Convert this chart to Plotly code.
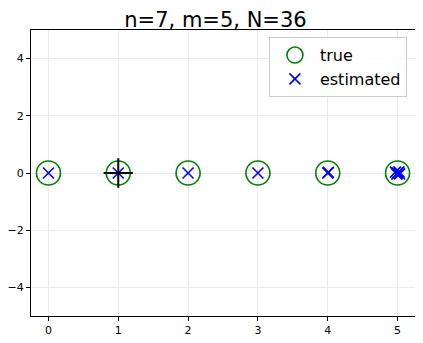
import plotly.graph_objects as go

true_x = [0, 1, 2, 3, 4, 5]
true_y = [0, 0, 0, 0, 0, 0]

est_x = [0, 1, 2, 3, 4, 4.01, 4.97, 5.0, 5.03, 4.99, 5.02]
est_y = [0, 0, 0, 0, 0, 0.02, 0.03, 0, -0.03, -0.04, 0.04]

anchor_x = [1]
anchor_y = [0]

fig = go.Figure()

fig.add_trace(go.Scatter(
    x=true_x, y=true_y, mode='markers', name='true',
    marker=dict(symbol='circle-open', size=24, color='green', line=dict(width=1.6, color='green')),
))

fig.add_trace(go.Scatter(
    x=est_x, y=est_y, mode='markers', name='estimated',
    marker=dict(symbol='x-thin-open', size=11, color='blue', line=dict(width=1.6, color='blue')),
))

fig.add_trace(go.Scatter(
    x=anchor_x, y=anchor_y, mode='markers', showlegend=False,
    marker=dict(symbol='cross-thin-open', size=21, color='black', line=dict(width=2, color='black')),
))

axis_style = dict(
    showgrid=True, gridcolor='#ebebeb', gridwidth=1,
    showline=True, linecolor='black', linewidth=1, mirror=True,
    ticks='outside', ticklen=4, tickcolor='black', automargin=False,
    zeroline=False, tickfont=dict(size=11, color='black'),
)

fig.update_xaxes(range=[-0.25, 5.25], tickvals=[0, 1, 2, 3, 4, 5], **axis_style)
fig.update_yaxes(range=[-5, 5], tickvals=[-4, -2, 0, 2, 4], **axis_style)

# the page body has an 8px margin, so the figure is shifted by 8px
fig.update_layout(
    width=415, height=335,
    margin=dict(l=23, r=8, t=22, b=27),
    plot_bgcolor='white', paper_bgcolor='white',
    font=dict(family='DejaVu Sans', color='black'),
    title=dict(text='n=7, m=5, N=36', x=0.5, xanchor='center', y=0.965, yanchor='middle',
               font=dict(size=21)),
    legend=dict(x=0.979, y=0.975, xanchor='right', yanchor='top',
                bordercolor='#cccccc', borderwidth=1, bgcolor='rgba(255,255,255,0.8)',
                font=dict(size=16), itemsizing='trace', itemwidth=40),
)

fig.write_html("out.html")
